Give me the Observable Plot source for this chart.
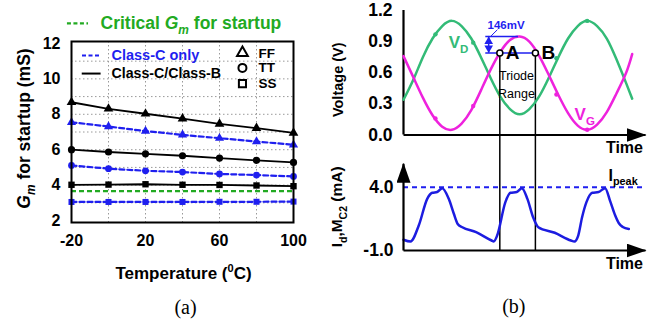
<!DOCTYPE html>
<html><head><meta charset="utf-8">
<script src="https://cdn.jsdelivr.net/npm/d3@7"></script>
<script src="https://cdn.jsdelivr.net/npm/@observablehq/plot@0.6"></script>
<style>
body{margin:0;background:#fff;}
#fig{position:relative;width:648px;height:326px;overflow:hidden;background:#fff;}
</style></head><body><div id="fig"></div>
<script>
// ---------- Panel (a) data ----------
const tempC = [-20, 0, 20, 40, 60, 80, 100];
const classCOnlyFF = [7.55, 7.31, 7.05, 6.84, 6.65, 6.46, 6.28];
const classCOnlyTT = [5.11, 4.93, 4.81, 4.74, 4.63, 4.57, 4.49];
const classCOnlySS = [3.05, 3.05, 3.05, 3.05, 3.06, 3.06, 3.07];
const classCBFF = [8.68, 8.31, 8.03, 7.75, 7.46, 7.22, 6.95];
const classCBTT = [6.00, 5.87, 5.77, 5.66, 5.53, 5.40, 5.28];
const classCBSS = [4.02, 4.03, 4.05, 4.02, 4.01, 3.98, 3.94];
const criticalGm = 3.66;
const tempTicks = [-20, 20, 60, 100];
const gmTicks = [2, 4, 6, 8, 10, 12];
const tempGrid = [0, 20, 40, 60, 80];
const gmGrid = [3, 4, 5, 6, 7, 8, 9, 10, 11];

// ---------- Panel (b) data ----------
const timeV = [0, 4, 8, 12, 16, 20, 24, 28, 32, 36, 40, 44, 48, 52, 56, 60, 64, 68, 72, 76, 80, 84, 88, 92, 94.5];
const vD = [0.34, 0.53, 0.75, 0.93, 1.05, 1.10, 1.05, 0.93, 0.75, 0.55, 0.37, 0.25, 0.20, 0.25, 0.37, 0.55, 0.75, 0.93, 1.05, 1.10, 1.05, 0.93, 0.73, 0.50, 0.35];
const vG = [0.76, 0.56, 0.36, 0.19, 0.08, 0.05, 0.11, 0.24, 0.43, 0.63, 0.80, 0.915, 0.95, 0.90, 0.765, 0.58, 0.385, 0.21, 0.09, 0.05, 0.10, 0.22, 0.40, 0.60, 0.78];
const markT = [13.2, 28.8, 63.2, 75.9];
const markVD = [0.97, 0.89, 0.74, 1.10];
const markVG = [0.16, 0.28, 0.39, 0.05];
const triodeT = [39.8, 54.5];
const triodeV = 0.79;
const triodeLabels = ["A", "B"];
const vgPeak = 0.95;
const voltTicks = [0, 0.3, 0.6, 0.9, 1.2];

const timeI = [0, 2.9, 6.3, 9.8, 11.9, 13.9, 16.0, 18.7, 20.8, 22.4, 24.3, 30, 36.4, 37.3, 38.7, 42.1, 44.2, 46.8, 48.9, 51.2, 53.6, 55.7, 62.5, 69.2, 70.6, 72.2, 73.8, 75.6, 78.0, 80.6, 83.3, 85.4, 87.4, 89.0, 90.6, 93.1];
const currentI = [-0.15, -0.29, 0.97, 3.08, 3.56, 3.62, 3.92, 3.08, 1.9, 1.1, 0.84, 0.45, -0.21, -0.29, 0.18, 2.82, 3.56, 3.62, 3.92, 3.08, 1.6, 0.84, 0.4, -0.21, -0.29, 0.18, 1.63, 2.82, 3.56, 3.62, 3.92, 2.9, 1.8, 1.15, 0.86, 0.7];
const iPeak = 4.0;
const currentTicks = [-1, 4];

// ---------- styling ----------
const FONT = "'Liberation Sans', Arial, Helvetica, sans-serif";
const SERIF = "'Liberation Serif', 'Times New Roman', serif";
const BLUE = "#1f1fef", GREEN = "#22aa22", VDC = "#33bb77", VGC = "#ee22dd", IC = "#1c1ce0";
const fig = document.getElementById("fig");

function rich(svg) {
  d3.select(svg).selectAll("text").each(function () {
    const s = this.textContent;
    if (!/[_^]\{|\*[^*]+\*/.test(s)) return;
    const fs = parseFloat(getComputedStyle(this).fontSize) || 16;
    const el = d3.select(this);
    el.text(null);
    const parts = s.split(/(_\{[^}]*\}|\^\{[^}]*\}|\*[^*]+\*)/).filter(p => p.length);
    let off = 0;
    for (const p of parts) {
      let txt = p, size = fs, shift = 0, italic = false;
      if (p.startsWith("_{")) { txt = p.slice(2, -1); size = fs * 0.68; shift = fs * 0.28; }
      else if (p.startsWith("^{")) { txt = p.slice(2, -1); size = fs * 0.65; shift = -fs * 0.42; }
      if (txt.startsWith("*") && txt.endsWith("*")) { txt = txt.slice(1, -1); italic = true; }
      const t = el.append("tspan").text(txt).attr("font-size", size);
      if (shift - off !== 0) t.attr("dy", shift - off);
      if (italic) t.attr("font-style", "italic");
      off = shift;
    }
  });
}
let mid = 0;
function arrowize(svg) {
  const id = "ah" + (mid++);
  const s = d3.select(svg);
  s.append("defs").append("marker").attr("id", id)
    .attr("viewBox", "0 0 20 14").attr("markerWidth", 20).attr("markerHeight", 14)
    .attr("refX", 19).attr("refY", 7).attr("orient", "auto").attr("markerUnits", "userSpaceOnUse")
    .append("path").attr("d", "M0,0L20,7L0,14Z").attr("fill", "black");
  s.selectAll("path[marker-end]").attr("marker-end", `url(#${id})`);
}
function addPlot(opts, fontSize) {
  const svg = Plot.plot({
    width: 648, height: 326, ...opts,
    style: {position: "absolute", left: "0px", top: "0px", background: "transparent", overflow: "visible",
            fontFamily: FONT, fontSize: fontSize + "px", fontWeight: "bold", color: "black"}
  });
  fig.appendChild(svg);
  rich(svg);
  arrowize(svg);
  return svg;
}

// ---------- Panel (a) ----------
const corners = {FF: "triangle", TT: "circle", SS: "square"};
function rows(vals, series, corner) { return tempC.map((temp, i) => ({temp, gm: vals[i], series, corner})); }
const blueRows = [...rows(classCOnlyFF, "C", "FF"), ...rows(classCOnlyTT, "C", "TT"), ...rows(classCOnlySS, "C", "SS")];
const blackRows = [...rows(classCBFF, "CB", "FF"), ...rows(classCBTT, "CB", "TT"), ...rows(classCBSS, "CB", "SS")];
const dotMarks = [];
for (const [c, sym] of Object.entries(corners)) {
  dotMarks.push(Plot.dot(blackRows.filter(d => d.corner === c), {x: "temp", y: "gm", symbol: sym, fill: "black", r: 3.6}));
  dotMarks.push(Plot.dot(blueRows.filter(d => d.corner === c), {x: "temp", y: "gm", symbol: sym, fill: BLUE, r: 3.4}));
}
const legendSyms = [{s: "triangle", y: 11.47, ty: 11.45, t: "FF"}, {s: "circle", y: 10.62, ty: 10.62, t: "TT"}, {s: "square", y: 9.73, ty: 9.72, t: "SS"}];

addPlot({
  marginLeft: 71, marginRight: 355, marginTop: 41, marginBottom: 104,
  x: {domain: [-20, 100], ticks: tempTicks, tickSize: 0, tickPadding: 12, tickFormat: d => String(d), label: null},
  y: {domain: [1.89, 12.11], ticks: gmTicks, tickSize: 0, tickPadding: 11, tickFormat: d => String(d), label: null},
  marks: [
    Plot.ruleX(tempGrid, {stroke: "#999", strokeDasharray: "1.5,2.5", strokeWidth: 1}),
    Plot.ruleY(gmGrid, {stroke: "#999", strokeDasharray: "1.5,2.5", strokeWidth: 1}),
    Plot.ruleY([criticalGm], {stroke: GREEN, strokeWidth: 2.2, strokeDasharray: "5,3"}),
    Plot.line(blackRows, {x: "temp", y: "gm", z: "corner", stroke: "black", strokeWidth: 1.8}),
    Plot.line(blueRows, {x: "temp", y: "gm", z: "corner", stroke: BLUE, strokeWidth: 2.2, strokeDasharray: "5,3"}),
    ...dotMarks,
    Plot.frame({stroke: "black", strokeWidth: 2}),
    // title / legend
    Plot.ruleY([13.13], {x1: -22.2, x2: -10.8, stroke: GREEN, strokeWidth: 2.2, strokeDasharray: "4,2.5"}),
    Plot.text(["Critical *G*_{*m*} for startup"], {x: -4.3, y: 13.13, textAnchor: "start", fill: GREEN, fontSize: 17.5}),
    Plot.ruleY([11.32], {x1: -14.05, x2: -3.8, stroke: BLUE, strokeWidth: 2.2, strokeDasharray: "4,2.5"}),
    Plot.text(["Class-C only"], {x: 1.6, y: 11.32, textAnchor: "start", fill: BLUE, fontSize: 14.5}),
    Plot.ruleY([10.30], {x1: -14.2, x2: -4.0, stroke: "black", strokeWidth: 2}),
    Plot.text(["Class-C/Class-B"], {x: 1.6, y: 10.30, textAnchor: "start", fill: "black", fontSize: 14.2}),
    ...legendSyms.map(d => Plot.dot([d], {x: 72.4, y: "y", symbol: d.s, r: 4, stroke: "black", strokeWidth: 2, fill: "white"})),
    Plot.text(legendSyms, {x: 81.1, y: "ty", text: "t", textAnchor: "start", fontSize: 13.5}),
    // axis titles
    Plot.text(["Temperature (^{0}C)"], {frameAnchor: "bottom", lineAnchor: "middle", textAnchor: "middle", dx: 1, dy: 51, fontSize: 17}),
    Plot.text(["*G*_{*m*} for startup (mS)"], {frameAnchor: "left", textAnchor: "middle", lineAnchor: "middle", dx: -47, dy: -3.5, rotate: -90, fontSize: 17.5}),
    Plot.text(["(a)"], {frameAnchor: "bottom", lineAnchor: "middle", textAnchor: "middle", dx: 3, dy: 85, fontSize: 20, fontFamily: SERIF, fontWeight: "normal"})
  ]
}, 16);

// ---------- Panel (b) top: voltages ----------
const vdRows = timeV.map((t, i) => ({t, v: vD[i]}));
const vgRows = timeV.map((t, i) => ({t, v: vG[i]}));
const markRowsD = markT.map((t, i) => ({t, v: markVD[i]}));
const markRowsG = markT.map((t, i) => ({t, v: markVG[i]}));
const triodeRows = triodeT.map((t, i) => ({t, v: triodeV, label: triodeLabels[i]}));

addPlot({
  marginLeft: 403, marginRight: 3, marginTop: 10, marginBottom: 191.5,
  x: {domain: [0, 100], axis: null},
  y: {domain: [0, 1.2], ticks: voltTicks, tickSize: 0, tickPadding: 11, tickFormat: d => d.toFixed(1), label: null},
  marks: [
    Plot.ruleX(triodeT, {y1: triodeV, y2: -1.12, stroke: "black", strokeWidth: 1.5}),
    Plot.ruleX([0], {y1: 0, y2: 1.2, stroke: "black", strokeWidth: 2.2}),
    Plot.link([0], {x1: 0, y1: 0, x2: 100, y2: 0, stroke: "black", strokeWidth: 2.2, markerEnd: "arrow"}),
    Plot.line(vdRows, {x: "t", y: "v", stroke: VDC, strokeWidth: 2.5, curve: "natural"}),
    Plot.line(vgRows, {x: "t", y: "v", stroke: VGC, strokeWidth: 2.5, curve: "natural"}),
    Plot.dot(markRowsD, {x: "t", y: "v", fill: VDC, r: 2.2}),
    Plot.dot(markRowsG, {x: "t", y: "v", fill: VGC, r: 2.2}),
    // 146 mV annotation
    Plot.ruleY([vgPeak], {x1: 34, x2: 47.5, stroke: BLUE, strokeWidth: 1.5}),
    Plot.ruleY([triodeV], {x1: 34, x2: triodeT[1], stroke: BLUE, strokeWidth: 1.5}),
    Plot.ruleX([35.2], {y1: triodeV, y2: vgPeak, stroke: BLUE, strokeWidth: 1.5}),
    Plot.dot([0], {x: 35.2, y: 0.901, symbol: "triangle", r: 3.2, fill: BLUE}),
    Plot.dot([0], {x: 35.2, y: 0.838, symbol: "triangle", rotate: 180, r: 3.2, fill: BLUE}),
    Plot.link([0], {x1: 36.2, y1: 0.955, x2: 38.8, y2: 1.015, stroke: BLUE, strokeWidth: 1}),
    Plot.text(["146mV"], {x: 42.4, y: 1.06, fill: BLUE, fontSize: 11.5}),
    Plot.dot(triodeRows, {x: "t", y: "v", r: 3, stroke: "black", strokeWidth: 1.5, fill: "white"}),
    Plot.text(triodeRows, {x: "t", y: "v", text: "label", dx: 6, textAnchor: "start", fontSize: 19}),
    Plot.text([{s: "Triode", v: 0.566}, {s: "Range", v: 0.40}], {x: 46.7, y: "v", text: "s", fontSize: 12.5, fontWeight: "normal"}),
    Plot.text(["V_{D}"], {x: 18.7, y: 0.89, textAnchor: "start", fill: VDC, fontSize: 17}),
    Plot.text(["V_{G}"], {x: 70.7, y: 0.195, textAnchor: "start", fill: VGC, fontSize: 17}),
    Plot.text(["Time"], {x: 91.3, y: -0.12, fontSize: 16}),
    Plot.text(["Voltage (V)"], {frameAnchor: "left", textAnchor: "middle", lineAnchor: "middle", dx: -65, dy: 7, rotate: -90, fontSize: 14.5}),
    Plot.text(["(b)"], {x: 45.6, y: -1.65, fontSize: 20, fontFamily: SERIF, fontWeight: "normal"})
  ]
}, 17.5);

// ---------- Panel (b) bottom: current ----------
const iRows = timeI.map((t, i) => ({t, i: currentI[i]}));
addPlot({
  marginLeft: 403, marginRight: 3, marginTop: 186.7, marginBottom: 76,
  x: {domain: [0, 100], axis: null},
  y: {domain: [-1, 4], ticks: currentTicks, tickSize: 0, tickPadding: 10, tickFormat: d => d.toFixed(1), label: null},
  marks: [
    Plot.ruleY([iPeak], {x1: 0, x2: 100, stroke: BLUE, strokeWidth: 2, strokeDasharray: "5,4"}),
    Plot.line(iRows, {x: "t", y: "i", stroke: IC, strokeWidth: 2.5, curve: "monotone-x"}),
    Plot.link([0], {x1: 0, y1: -1, x2: 100, y2: -1, stroke: "black", strokeWidth: 2.2, markerEnd: "arrow"}),
    Plot.link([0], {x1: 0, y1: -1, x2: 0, y2: 5.85, stroke: "black", strokeWidth: 2.2, markerEnd: "arrow"}),
    Plot.text(["I_{peak}"], {x: 84.7, y: 4.9, textAnchor: "start", fill: "black", fontSize: 16}),
    Plot.text(["Time"], {x: 91.3, y: -2.03, fontSize: 16}),
    Plot.text(["I_{d},M_{C2} (mA)"], {frameAnchor: "left", textAnchor: "middle", lineAnchor: "middle", dx: -66, dy: -12, rotate: -90, fontSize: 15.5})
  ]
}, 17.5);
</script></body></html>
